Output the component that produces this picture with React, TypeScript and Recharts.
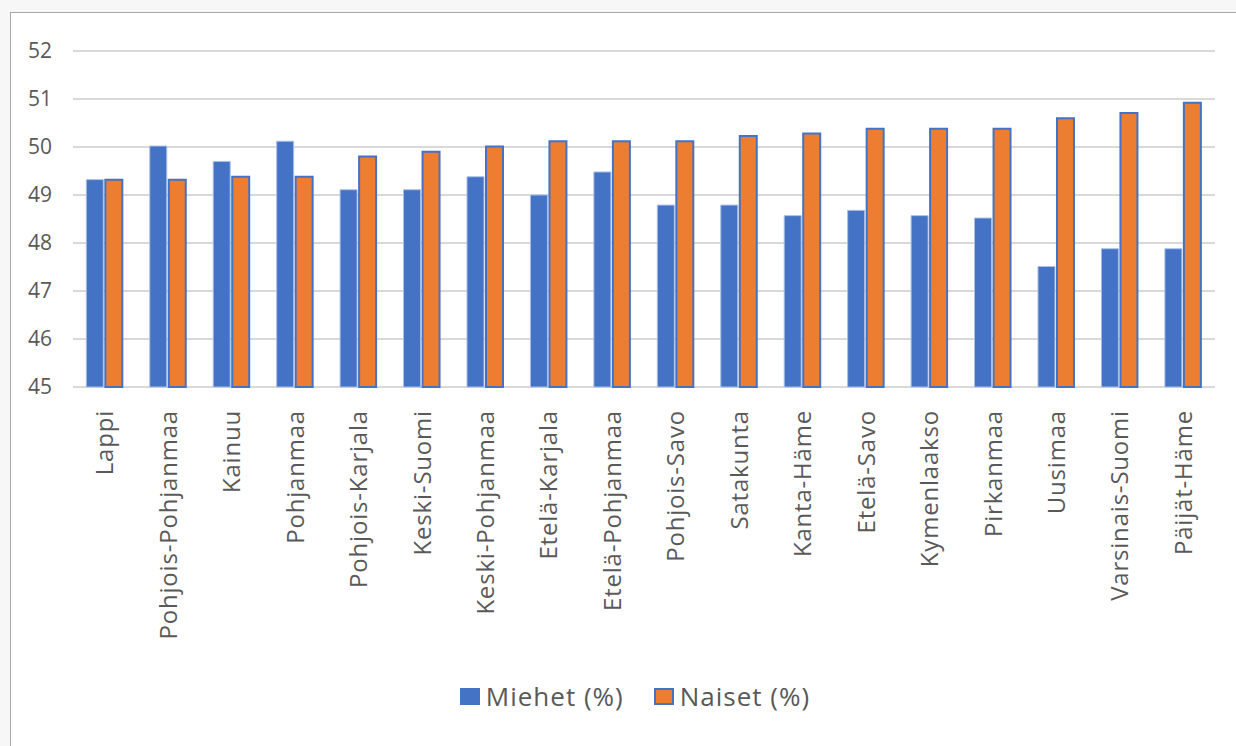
import { BarChart, Bar, XAxis, YAxis, CartesianGrid, Legend } from 'recharts'

const regions = [
  'Lappi',
  'Pohjois-Pohjanmaa',
  'Kainuu',
  'Pohjanmaa',
  'Pohjois-Karjala',
  'Keski-Suomi',
  'Keski-Pohjanmaa',
  'Etelä-Karjala',
  'Etelä-Pohjanmaa',
  'Pohjois-Savo',
  'Satakunta',
  'Kanta-Häme',
  'Etelä-Savo',
  'Kymenlaakso',
  'Pirkanmaa',
  'Uusimaa',
  'Varsinais-Suomi',
  'Päijät-Häme',
]

const miehet = [49.32, 50.02, 49.7, 50.12, 49.11, 49.11, 49.38, 49.0, 49.48, 48.79, 48.79, 48.57, 48.68, 48.57, 48.52, 47.51, 47.88, 47.88]
const naiset = [49.32, 49.32, 49.38, 49.38, 49.8, 49.9, 50.01, 50.12, 50.12, 50.12, 50.23, 50.28, 50.38, 50.38, 50.38, 50.6, 50.71, 50.92]

const yTicks = [45, 46, 47, 48, 49, 50, 51, 52]

const BLUE = '#4472C4'
const ORANGE = '#ED7D31'
const TEXT = '#595959'
const FONT = '"Open Sans", "Noto Sans", sans-serif'

const data = regions.map((name, i) => ({ name, miehet: miehet[i], naiset: naiset[i] }))

function RegionTick({ x, y, payload }: any) {
  return (
    <text
      x={x}
      y={y}
      transform={`rotate(-90, ${x}, ${y})`}
      textAnchor="end"
      dy="0.36em"
      fill={TEXT}
      fontSize={24}
      fontFamily={FONT}
      letterSpacing={0.8}
    >
      {payload.value}
    </text>
  )
}

function LegendBox() {
  const item = (label: string, fill: string, stroke: string, gap: number) => (
    <div style={{ display: 'flex', alignItems: 'center', marginRight: gap }}>
      <span
        style={{
          display: 'inline-block',
          width: 20,
          height: 17,
          boxSizing: 'border-box',
          background: fill,
          border: `2px solid ${stroke}`,
          marginRight: 6,
        }}
      />
      <span style={{ fontFamily: FONT, fontSize: 26, letterSpacing: 1, color: TEXT, lineHeight: '30px' }}>{label}</span>
    </div>
  )
  return (
    <div style={{ display: 'flex', justifyContent: 'center', alignItems: 'center', paddingLeft: 34 }}>
      {item('Miehet (%)', BLUE, BLUE, 30)}
      {item('Naiset (%)', ORANGE, BLUE, 0)}
    </div>
  )
}

export default function App() {
  return (
    <div
      style={{
        position: 'absolute',
        left: 0,
        top: 0,
        width: 1236,
        height: 746,
        overflow: 'hidden',
        background: '#f8f7f8',
      }}
    >
      <div
        style={{
          position: 'absolute',
          left: 10,
          top: 12,
          width: 1240,
          height: 760,
          border: '1px solid #a6a6a6',
          background: '#ffffff',
        }}
      />
      <div style={{ position: 'absolute', left: 0, top: 0 }}>
        <BarChart
          width={1236}
          height={746}
          data={data}
          margin={{ top: 51, right: 21, bottom: 0, left: 0 }}
          barCategoryGap="21%"
          barGap={2}
        >
          <CartesianGrid vertical={false} stroke="#d9d9d9" strokeWidth={2} />
          <XAxis
            dataKey="name"
            interval={0}
            height={359}
            tickSize={0}
            tickMargin={23}
            axisLine={false}
            tick={<RegionTick />}
          />
          <YAxis
            width={73}
            domain={[45, 52]}
            ticks={yTicks}
            interval={0}
            tickSize={0}
            tickMargin={21}
            axisLine={false}
            tick={{ fill: TEXT, fontSize: 21, fontFamily: FONT }}
          />
          <Legend
            layout="horizontal"
            verticalAlign="middle"
            align="center"
            wrapperStyle={{ top: 681, left: 0, width: 1236 }}
            content={<LegendBox />}
          />
          <Bar dataKey="miehet" name="Miehet (%)" fill={BLUE} stroke="#a9bfe6" strokeWidth={1} isAnimationActive={false} />
          <Bar dataKey="naiset" name="Naiset (%)" fill={ORANGE} stroke={BLUE} strokeWidth={2} isAnimationActive={false} />
        </BarChart>
      </div>
    </div>
  )
}
